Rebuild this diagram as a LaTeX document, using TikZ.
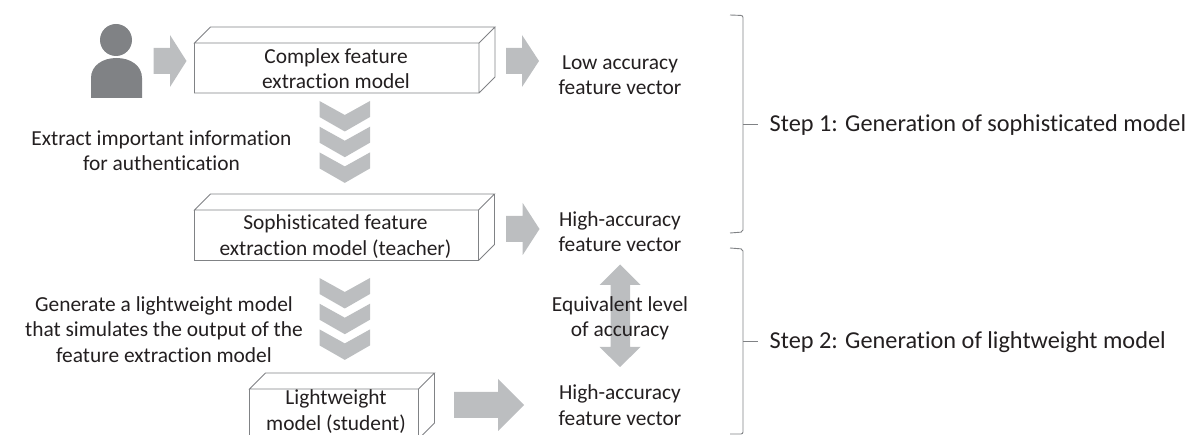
\documentclass[tikz,border=0pt]{standalone}
\usepackage{fontspec}
\setmainfont[Ligatures={NoCommon,NoRequired,NoContextual}]{Carlito}
\definecolor{txt}{HTML}{231F20}
\definecolor{blockgray}{HTML}{BCBEC0}
\definecolor{linegray}{HTML}{808285}
\newcommand{\rightarrowblock}[6]{% x0 xbase xtip yc shaft-half head-half
  \fill[blockfill] (#1,#4-#5) -- (#2,#4-#5) -- (#2,#4-#6) -- (#3,#4) -- (#2,#4+#6) -- (#2,#4+#5) -- (#1,#4+#5) -- cycle;}
\newcommand{\chevronblock}[1]{% top y
  \fill[blockfill] (319.5,#1) -- (344.8,#1+14) -- (370,#1) -- (370,#1+16) -- (344.8,#1+30.5) -- (319.5,#1+16) -- cycle;}
\newcommand{\cuboid}[5]{% left right backtop fronttop frontbottom
  \draw[boxline] (#1,#4) -- (#1+16,#3) -- (#2+16,#3) -- (#2,#4) -- cycle
    (#1,#4) -- (#1,#5) -- (#2,#5) -- (#2,#4)
    (#2+16,#3) -- (#2+16,#5-16) -- (#2,#5);}
\tikzset{
  x=1pt,y=-1pt,
  blockfill/.style={fill=blockgray},
  boxline/.style={draw=linegray,line width=0.9pt,line join=miter},
  brace/.style={draw=linegray,line width=0.9pt,rounded corners=2pt},
  label/.style={text=txt,align=center,font=\fontsize{21.4}{25.3}\selectfont,inner sep=0pt},
  steplabel/.style={text=txt,anchor=west,font=\fontsize{24.3}{28}\selectfont,inner sep=0pt},
}
\begin{document}
\begin{tikzpicture}
\useasboundingbox (0,0) rectangle (1195,435);
\begin{scope}
\clip (0,0) rectangle (1195,435);
% person
\fill[linegray] (116,40) circle (16);
\fill[linegray] (91,98) -- (91,78) .. controls (91,66) and (102,58) .. (116.5,58) .. controls (131,58) and (142,66) .. (142,78) -- (142,98) -- cycle;
% cuboids
\cuboid{194.5}{479}{27}{43}{93}
\cuboid{194.5}{478.5}{194}{210}{260.5}
\cuboid{249.5}{418.5}{373}{389}{439}
% block arrows
\rightarrowblock{153.5}{170}{186.5}{61}{13}{26}
\rightarrowblock{506}{522}{539}{61}{13}{26}
\rightarrowblock{506}{522.7}{539.5}{229}{13}{26}
\rightarrowblock{454}{498}{524}{405}{13}{26}
% chevrons
\chevronblock{101}\chevronblock{126.7}\chevronblock{152.4}
\chevronblock{278}\chevronblock{303.7}\chevronblock{329.4}
% double arrow
\fill[blockfill] (620,264.5) -- (640.5,285) -- (630,285) -- (630,347) -- (640.5,347) -- (620,367) -- (599.5,347) -- (610.5,347) -- (610.5,285) -- (599.5,285) -- cycle;
% brackets
\draw[brace] (730,15) -- (743,15.5) -- (743,232) -- (730,233);
\draw[linegray,line width=0.9pt] (743,124) -- (757.5,124);
\draw[brace] (730,248) -- (743,249) -- (743,434) -- (730,434);
\draw[linegray,line width=0.9pt] (743,341.5) -- (757.5,341.5);
% labels
\node[label] (m1) at (336,69) {Complex feature\\extraction model};
\node[label] (m2) at (335.5,236.5) {Sophisticated feature\\extraction model (teacher)};
\node[label] (m3) at (336,411.5) {Lightweight\\model (student)};
\node[label] (f1) at (620,75.5) {Low accuracy\\feature vector};
\node[label] (f2) at (620,232) {High-accuracy\\feature vector};
\node[label] (f3) at (620,405) {High-accuracy\\feature vector};
\node[label] (eq) at (620,318) {Equivalent level\\of accuracy};
\node[label] (ex) at (161.5,150.5) {Extract important information\\for authentication};
\node[label] (ge) at (164,329.5) {Generate a lightweight model\\that simulates the output of the\\feature extraction model};
\node[steplabel] (s1) at (769.5,125) {Step 1: Generation of sophisticated model};
\node[steplabel] (s2) at (769.5,342) {Step 2: Generation of lightweight model};
\end{scope}
\end{tikzpicture}
\end{document}
